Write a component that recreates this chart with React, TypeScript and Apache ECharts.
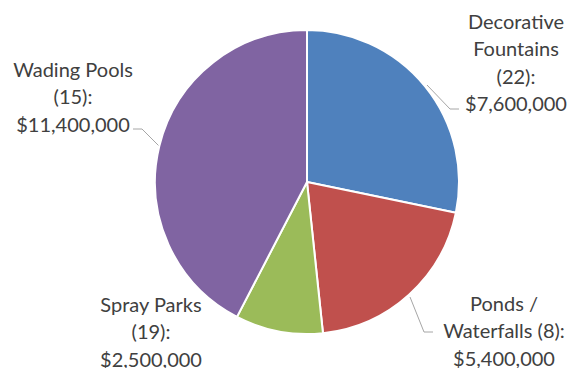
import React, { useEffect, useRef } from "react";
import * as echarts from "echarts";

const categories = ["Decorative\nFountains\n(22):", "Ponds /\nWaterfalls (8):", "Spray Parks\n(19):", "Wading Pools\n(15):"];
const values = [7600000, 5400000, 2500000, 11400000];
const colors = ["#4F81BD", "#C0504D", "#9BBB59", "#8064A2"];
const showLines = [true, true, false, true];
const labelPos: [number, number][] = [[516, 62], [504, 330], [151, 331], [73, 96]];
const linePoints: number[][][] = [
  [[427, 85], [450, 109], [459, 109]],
  [[410, 297], [424, 332], [433, 332]],
  [],
  [[160, 147], [142, 129], [133, 129]],
];

function fmt(v: number) {
  return "$" + v.toLocaleString("en-US");
}

export default function App() {
  const ref = useRef<HTMLDivElement>(null);
  useEffect(() => {
    if (!ref.current) return;
    const chart = echarts.init(ref.current, null, { renderer: "svg" });
    chart.setOption({
      animation: false,
      series: [
        {
          type: "pie",
          center: [307, 182],
          radius: 152,
          startAngle: 90,
          clockwise: true,
          itemStyle: { borderColor: "#fff", borderWidth: 2 },
          label: {
            show: true,
            color: "#404040",
            fontFamily: "Lato",
            fontSize: 20,
            lineHeight: 27.5,
            align: "center",
            formatter: (p: any) => categories[p.dataIndex] + "\n" + fmt(p.value),
          },
          labelLine: {
            show: true,
            length: 10,
            length2: 8,
            lineStyle: { color: "#A6A6A6", width: 1 },
          },
          labelLayout: (p: any) => {
            const i = p.dataIndex;
            const o: any = {
              x: labelPos[i][0],
              y: labelPos[i][1],
              align: "center",
              verticalAlign: "middle",
            };
            if (showLines[i]) o.labelLinePoints = linePoints[i];
            return o;
          },
          data: values.map((v, i) => ({
            value: v,
            name: categories[i],
            itemStyle: { color: colors[i] },
            labelLine: { show: showLines[i] },
          })),
        },
      ],
    });
    return () => chart.dispose();
  }, []);
  return (
    <div
      ref={ref}
      style={{ position: "fixed", left: 0, top: 0, width: 573, height: 368, background: "#fff" }}
    />
  );
}
